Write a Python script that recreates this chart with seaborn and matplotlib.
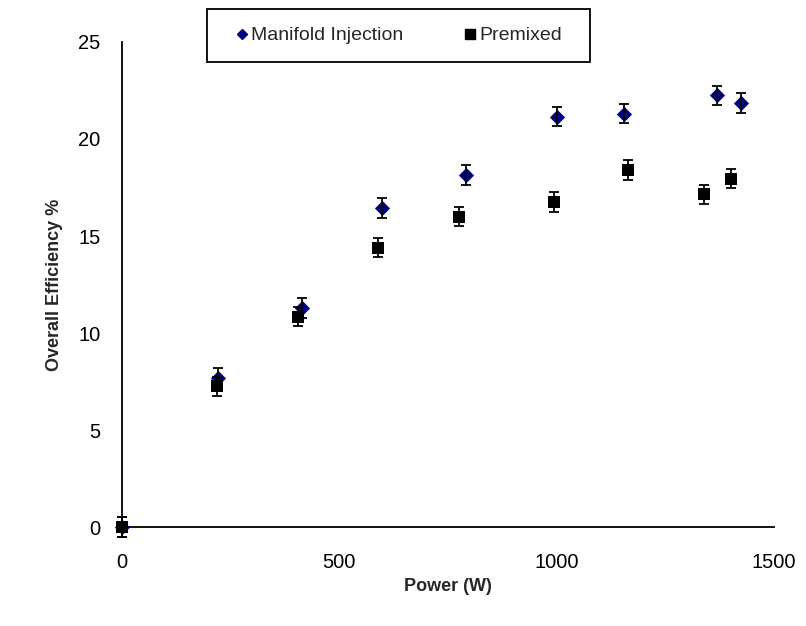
import matplotlib
matplotlib.use("Agg")
import matplotlib.pyplot as plt
from matplotlib.lines import Line2D
from matplotlib.patches import Rectangle
import pandas as pd
import seaborn as sns

# values
manifold_power = [0, 222, 414, 598, 792, 1000, 1156, 1369, 1423]
manifold_eff = [0, 7.7, 11.3, 16.45, 18.15, 21.15, 21.3, 22.25, 21.85]
manifold_err = [0.5, 0.5, 0.5, 0.5, 0.5, 0.5, 0.5, 0.5, 0.5]

premixed_power = [0, 220, 406, 589, 775, 993, 1164, 1338, 1402]
premixed_eff = [0, 7.25, 10.85, 14.4, 16.0, 16.75, 18.4, 17.15, 17.95]
premixed_err = [0.5, 0.5, 0.5, 0.5, 0.5, 0.5, 0.5, 0.5, 0.5]

x_ticks = [0, 500, 1000, 1500]
y_ticks = [0, 5, 10, 15, 20, 25]

BLUE = "#000080"

sns.set_theme(style="white")
plt.rcParams["font.family"] = ["Liberation Sans", "DejaVu Sans"]

df = pd.concat([
    pd.DataFrame({"power": manifold_power, "eff": manifold_eff,
                  "err": manifold_err, "series": "Manifold Injection"}),
    pd.DataFrame({"power": premixed_power, "eff": premixed_eff,
                  "err": premixed_err, "series": "Premixed"}),
], ignore_index=True)

fig = plt.figure(figsize=(8.06, 6.26), dpi=100)
ax = fig.add_axes([0.1508, 0.158, 0.8096, 0.775])

styles = {
    "Manifold Injection": dict(marker="D", color=BLUE, s=60),
    "Premixed": dict(marker="s", color="black", s=78),
}
for name, sub in df.groupby("series", sort=True):
    st = styles[name]
    sns.scatterplot(data=sub, x="power", y="eff", marker=st["marker"],
                    color=st["color"], s=st["s"], linewidth=0, ax=ax,
                    zorder=3, clip_on=False, legend=False)
    ax.errorbar(sub["power"], sub["eff"], yerr=sub["err"], fmt="none",
                ecolor="black", elinewidth=1.3, capsize=3.5, capthick=1.3,
                zorder=4, clip_on=False)

ax.set_xlim(0, 1500)
ax.set_ylim(0, 25)
ax.set_xticks(x_ticks)
ax.set_yticks(y_ticks)
ax.tick_params(axis="both", direction="out", length=6, width=1.2,
               color="black", labelsize=14.5, labelcolor="black", pad=9)
ax.tick_params(axis="x", pad=13)
for side in ("top", "right"):
    ax.spines[side].set_visible(False)
for side in ("left", "bottom"):
    ax.spines[side].set_color("black")
    ax.spines[side].set_linewidth(1.3)

ax.set_xlabel("Power (W)", fontsize=13, fontweight="bold", labelpad=4)
ax.set_ylabel("Overall Efficiency %", fontsize=13, fontweight="bold",
              labelpad=11)

handles = [
    Line2D([], [], marker="D", color=BLUE, linestyle="none", markersize=5),
    Line2D([], [], marker="s", color="black", linestyle="none", markersize=7),
]
leg = fig.legend(handles, ["Manifold Injection", "Premixed"], ncol=2,
                 loc="center", bbox_to_anchor=(0.494, 0.943),
                 fontsize=14, frameon=False,
                 handletextpad=0.1, columnspacing=3.0, handlelength=0.8,
                 borderpad=0.3, borderaxespad=0)
# frame drawn by hand: it is wider than the legend's own padding allows
fig.add_artist(Rectangle((0.2568, 0.901), 0.4752, 0.0847,
                         transform=fig.transFigure, fill=False,
                         edgecolor="black", linewidth=1.3))

fig.savefig("out.png", dpi=100)
